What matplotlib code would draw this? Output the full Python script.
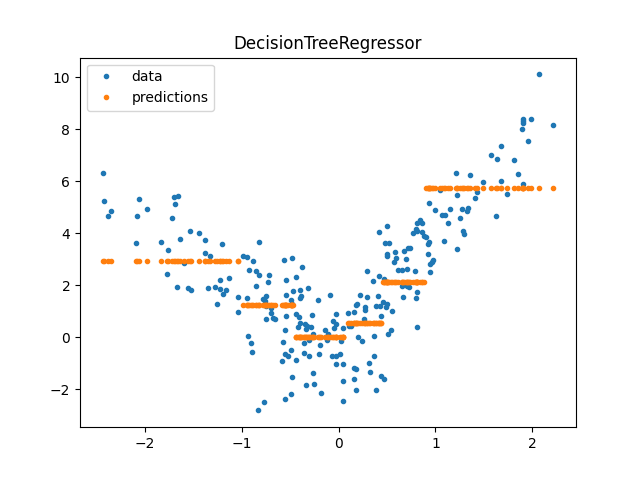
import numpy as np
import matplotlib
matplotlib.use("Agg")
import matplotlib.pyplot as plt

# data points
x = [-2.44, -2.43, -2.35, -2.38, -2.06, -2.08, -1.98, -2.09, -1.70, -1.66,
     -1.69, -1.72, -1.84, -1.76, -1.64, -1.54, -1.44, -1.38, -1.38, -1.33,
     -1.60, -1.77, -1.67, -1.56, -1.53, -1.35, -1.28, -1.23, -1.23, -1.16,
     -1.19, -1.13, -1.21, -1.26,
     -1.04, -0.95, -0.99, -0.95, -0.88, -0.82, -0.93, -0.85, -0.82, -0.72,
     -0.73, -0.85, -0.75, -0.78, -0.76, -0.75, -0.70, -0.70, -0.68, -0.66,
     -0.75, -1.04, -0.94, -0.91, -0.90, -0.77, -0.83, -0.56, -0.48, -0.54,
     -0.54, -0.49, -0.48, -0.54, -0.55, -0.58, -0.49, -0.55, -0.52, -0.59,
     -0.48, -0.49, -0.55,
     -0.44, -0.38, -0.32, -0.40, -0.47, -0.39, -0.40, -0.21, -0.09, -0.44,
     -0.41, -0.28, -0.40, -0.42, -0.35, -0.33, -0.34, -0.29, -0.27, -0.14,
     -0.11, -0.36, -0.31, -0.19, -0.44, -0.36, -0.31, -0.20, -0.26, -0.34,
     -0.25, -0.18, -0.03, -0.06, -0.03, -0.05, 0.05, -0.11, -0.12, 0.02,
     -0.07, -0.03, 0.01, -0.03, 0.05, 0.05, 0.05,
     0.11, 0.13, 0.22, 0.29, 0.41, 0.19, 0.18, 0.27, 0.27, 0.16,
     0.10, 0.39, 0.43, 0.44, 0.26, 0.20, 0.24, 0.37, 0.37, 0.31,
     0.32, 0.16, 0.18, 0.16, 0.44, 0.18, 0.39, 0.29, 0.35, 0.42,
     0.42,
     0.46, 0.50, 0.49, 0.55, 0.54, 0.51, 0.47, 0.47, 0.48, 0.52,
     0.50, 0.50, 0.50, 0.58, 0.59, 0.57, 0.68, 0.72, 0.74, 0.77,
     0.81, 0.86, 0.88, 0.70, 0.61, 0.65, 0.71, 0.79, 0.65, 0.71,
     0.73, 0.81, 0.80, 0.67, 0.81, 0.81, 0.84, 0.86, 0.80,
     0.90, 0.93, 0.92, 0.92, 0.97, 0.96, 0.94, 0.94, 1.09, 0.93,
     1.00, 1.05, 1.07, 1.10, 1.13, 1.15, 1.27, 1.34, 1.33, 1.25,
     1.63, 1.29, 1.30, 1.22, 1.21, 1.36, 1.49, 1.68, 1.91, 1.22,
     1.43, 1.41, 1.74, 1.57, 1.64, 1.81, 1.85, 1.68, 1.89, 1.91,
     1.91, 1.91, 1.99, 1.96, 2.07, 2.22]
y = [6.29, 5.22, 4.83, 4.64, 5.30, 4.64, 4.91, 3.60, 5.37, 5.41,
     5.10, 4.57, 3.64, 3.33, 3.76, 4.06, 3.99, 3.72, 3.22, 3.10,
     2.83, 2.41, 1.91, 1.88, 1.80, 1.88, 1.91, 2.18, 1.83, 1.80,
     1.64, 2.26, 3.57, 1.29,
     1.53, 1.49, 3.10, 3.07, 2.91, 3.64, 2.56, 2.53, 2.37, 2.37,
     2.10, 1.95, 1.56, 1.45, 1.37, 1.18, 1.10, 0.91, 0.72, 0.68,
     0.68, 0.95, 0.03, -0.24, -0.59, -2.51, -2.82, 2.95, 3.03, 2.18,
     1.60, 1.41, 1.29, 0.80, 0.26, -0.20, -0.51, -0.67, -0.74, -0.93,
     -1.55, -2.20, -2.40,
     2.30, 2.68, 1.87, 1.80, 1.76, 1.56, 1.49, 1.41, 1.60, 0.87,
     0.76, 0.83, 0.53, 0.37, 0.49, 0.41, 0.30, 0.37, 0.10, 0.26,
     0.10, -0.24, -0.13, -0.32, -0.90, -0.63, -0.74, -0.67, -1.40, -1.86,
     -1.82, -2.17, 0.87, 0.60, 0.49, 0.34, 0.34, 0.07, -0.13, -0.17,
     -0.74, -0.74, -0.67, -1.05, -1.05, -1.70, -2.47,
     0.41, 0.41, 1.60, 1.53, 1.56, 1.26, 1.22, 1.14, 1.03, 0.95,
     0.91, 1.18, 1.18, 0.80, 0.68, -0.01, -0.17, 0.03, -0.71, -1.01,
     -1.36, -1.20, -1.24, -1.63, -1.51, -2.05, -2.05, 2.53, 2.14, 2.33,
     4.03,
     1.33, 1.29, 1.14, 0.99, 0.26, 0.10, -1.63, 2.22, 3.60, 3.60,
     3.18, 3.10, 4.26, 3.26, 3.03, 2.87, 3.30, 3.41, 3.41, 3.99,
     4.07, 4.03, 3.87, 2.99, 2.56, 2.56, 2.60, 2.53, 1.98, 1.95,
     1.91, 1.72, 1.49, 1.53, 0.37, 4.40, 4.49, 4.40, 4.14,
     3.83, 3.64, 3.57, 3.18, 2.95, 2.87, 2.80, 2.49, 3.68, 5.14,
     4.87, 5.64, 4.68, 4.68, 4.40, 4.91, 4.91, 4.95, 4.83, 4.57,
     4.64, 4.07, 3.96, 3.37, 6.29, 6.22, 5.95, 5.99, 5.87, 5.45,
     5.57, 5.33, 5.49, 7.00, 6.85, 6.80, 6.26, 7.34, 7.99, 8.37,
     8.29, 8.25, 8.37, 7.53, 10.10, 8.14]

# tree leaves: split points and leaf values
splits = [-1.02, -0.455, 0.09, 0.445, 0.89]
leaf_values = [2.91, 1.22, 0.0, 0.53, 2.10, 5.72]

x = np.array(x)
y = np.array(y)
pred = np.array(leaf_values)[np.searchsorted(splits, x)]

fig, ax = plt.subplots(figsize=(6.4, 4.8), dpi=100)
ax.plot(x, y, '.', label='data')
ax.plot(x, pred, '.', label='predictions')
ax.set_title('DecisionTreeRegressor')
ax.legend(loc='upper left')
fig.savefig('out.png')
